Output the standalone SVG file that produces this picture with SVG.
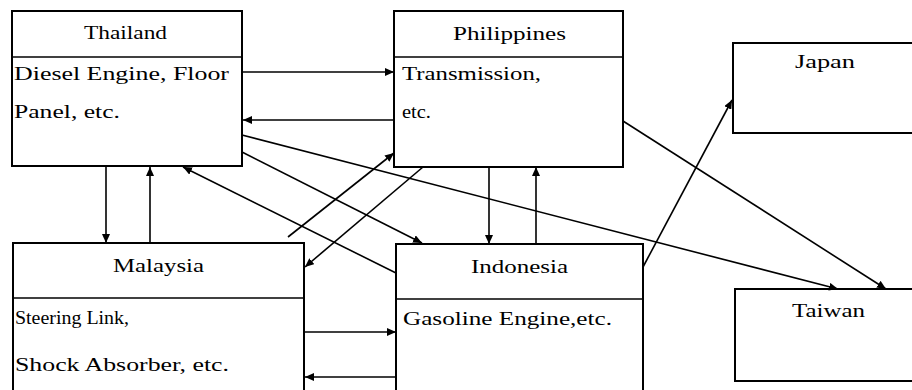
<svg xmlns="http://www.w3.org/2000/svg" width="912" height="390" viewBox="0 0 912 390">
<defs>
<marker id="ah" markerWidth="10" markerHeight="8" refX="9" refY="4" orient="auto" markerUnits="userSpaceOnUse">
<path d="M0,0 L9,4 L0,8 Z" fill="#000"/>
</marker>
<style>
.box{fill:#fff;stroke:#000;stroke-width:2}
.div{stroke:#000;stroke-width:1.5}
.t{font-size:19px;fill:#000}
.b{font-size:18px;fill:#000}
.c{fill:none;stroke:#000;stroke-width:1.6;marker-end:url(#ah)}
</style>
</defs>
<rect width="912" height="390" fill="#fff"/>
<g id="thailand" font-family="Liberation Serif, Times New Roman, serif">
<rect class="box" x="12" y="11" width="230" height="155"/>
<line class="div" x1="12" y1="57" x2="242" y2="57"/>
<text class="t" x="84" y="39" textLength="83" lengthAdjust="spacingAndGlyphs">Thailand</text>
<text class="b" x="14" y="80" textLength="215" lengthAdjust="spacingAndGlyphs">Diesel Engine, Floor</text>
<text class="b" x="14" y="118" textLength="106" lengthAdjust="spacingAndGlyphs">Panel, etc.</text>
</g>
<g id="philippines" font-family="Liberation Serif, Times New Roman, serif">
<rect class="box" x="394" y="11" width="229" height="156"/>
<line class="div" x1="394" y1="57" x2="623" y2="57"/>
<text class="t" x="453" y="40" textLength="113" lengthAdjust="spacingAndGlyphs">Philippines</text>
<text class="b" x="402" y="80" textLength="139" lengthAdjust="spacingAndGlyphs">Transmission,</text>
<text class="b" x="402" y="118" textLength="29" lengthAdjust="spacingAndGlyphs">etc.</text>
</g>
<g id="japan" font-family="Liberation Serif, Times New Roman, serif">
<rect class="box" x="733" y="43" width="190" height="90"/>
<text class="t" x="795" y="68" textLength="60" lengthAdjust="spacingAndGlyphs">Japan</text>
</g>
<g id="malaysia" font-family="Liberation Serif, Times New Roman, serif">
<rect class="box" x="13" y="243" width="291" height="160"/>
<line class="div" x1="13" y1="298" x2="304" y2="298"/>
<text class="t" x="113" y="272" textLength="91" lengthAdjust="spacingAndGlyphs">Malaysia</text>
<text class="b" x="15" y="324" textLength="114" lengthAdjust="spacingAndGlyphs">Steering Link,</text>
<text class="b" x="15" y="371" textLength="214" lengthAdjust="spacingAndGlyphs">Shock Absorber, etc.</text>
</g>
<g id="indonesia" font-family="Liberation Serif, Times New Roman, serif">
<rect class="box" x="396" y="244" width="247" height="160"/>
<line class="div" x1="396" y1="299" x2="643" y2="299"/>
<text class="t" x="471" y="273" textLength="97" lengthAdjust="spacingAndGlyphs">Indonesia</text>
<text class="b" x="403" y="325" textLength="209" lengthAdjust="spacingAndGlyphs">Gasoline Engine,etc.</text>
</g>
<g id="taiwan" font-family="Liberation Serif, Times New Roman, serif">
<rect class="box" x="735" y="289" width="190" height="92"/>
<text class="t" x="792" y="317" textLength="73" lengthAdjust="spacingAndGlyphs">Taiwan</text>
</g>
<g id="connectors">
<line class="c" x1="242" y1="72" x2="394" y2="72"/>
<line class="c" x1="394" y1="120" x2="243" y2="120"/>
<line class="c" x1="106" y1="167" x2="106" y2="243"/>
<line class="c" x1="150" y1="243" x2="150" y2="167"/>
<line class="c" x1="396" y1="273" x2="183" y2="167"/>
<line class="c" x1="242" y1="152" x2="422" y2="243"/>
<line class="c" x1="242" y1="135" x2="838" y2="289"/>
<line class="c" x1="623" y1="121" x2="886" y2="289"/>
<line class="c" x1="288" y1="237" x2="394" y2="153"/>
<line class="c" x1="423" y1="167" x2="305" y2="267"/>
<line class="c" x1="489" y1="167" x2="489" y2="244"/>
<line class="c" x1="536" y1="244" x2="536" y2="167"/>
<line class="c" x1="643" y1="267" x2="732" y2="100"/>
<line class="c" x1="304" y1="332" x2="396" y2="332"/>
<line class="c" x1="396" y1="377" x2="305" y2="377"/>
</g>
</svg>
